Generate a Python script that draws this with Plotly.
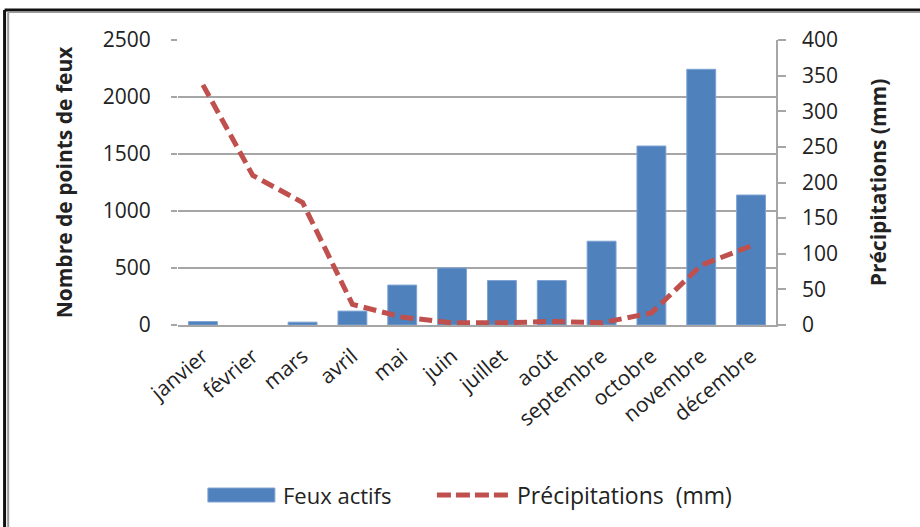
import plotly.graph_objects as go

# Monthly active fire counts and rainfall
months = ["janvier", "février", "mars", "avril", "mai", "juin", "juillet",
          "août", "septembre", "octobre", "novembre", "décembre"]
feux_actifs = [30, 0, 25, 122, 350, 500, 390, 390, 735, 1570, 2243, 1140]
precipitations = [337, 210, 172, 29, 11, 3, 3, 5, 3, 17, 84, 111]

left_ticks = [0, 500, 1000, 1500, 2000, 2500]
right_ticks = [0, 50, 100, 150, 200, 250, 300, 350, 400]

FONT = "Open Sans"
TXT = "#222222"
GRID = "#a6a6a6"
BLUE = "#4F81BD"
RED = "#C0504D"

fig = go.Figure()

fig.add_trace(go.Bar(
    x=months, y=feux_actifs, name="Feux actifs",
    marker=dict(color=BLUE,
                line=dict(color="#7ea3d3",
                          width=[1 if v > 0 else 0 for v in feux_actifs])),
    yaxis="y", showlegend=False,
))

fig.add_trace(go.Scatter(
    x=months, y=precipitations, name="Précipitations  (mm)",
    mode="lines", line=dict(color=RED, width=5, dash="13px,6px"),
    yaxis="y2", showlegend=False,
))

# legend drawn below the plot: swatches + labels
legend_shapes = [
    dict(type="rect", xref="paper", yref="paper",
         x0=0.050, x1=0.162, y0=-0.621, y1=-0.572,
         fillcolor=BLUE, line=dict(color="#7ea3d3", width=1)),
    dict(type="line", xref="paper", yref="paper",
         x0=0.433, x1=0.558, y0=-0.5965, y1=-0.5965,
         line=dict(color=RED, width=5, dash="14px,5px")),
]
legend_labels = [
    dict(text="Feux actifs", x=0.172, y=-0.5965, xref="paper", yref="paper",
         xanchor="left", yanchor="middle", showarrow=False,
         font=dict(size=22, family=FONT, color=TXT)),
    dict(text="Précipitations  (mm)", x=0.564, y=-0.5965, xref="paper",
         yref="paper", xanchor="left", yanchor="middle", showarrow=False,
         font=dict(size=23, family=FONT, color=TXT)),
]

# outer frame: dark line with a grey inner line (top and left edges)
frame = [
    dict(type="line", xref="paper", yref="paper",
         x0=-0.290, x1=1.3, y0=1.105, y1=1.105,
         line=dict(color="#111111", width=3)),
    dict(type="line", xref="paper", yref="paper",
         x0=-0.284, x1=1.3, y0=1.097, y1=1.097,
         line=dict(color="#9a9a9a", width=1.5)),
    dict(type="line", xref="paper", yref="paper",
         x0=-0.290, x1=-0.290, y0=1.105, y1=-0.75,
         line=dict(color="#111111", width=3)),
    dict(type="line", xref="paper", yref="paper",
         x0=-0.284, x1=-0.284, y0=1.097, y1=-0.75,
         line=dict(color="#9a9a9a", width=2)),
]

fig.update_layout(
    width=920, height=527,
    margin=dict(l=178, r=144, t=40, b=202),
    paper_bgcolor="white", plot_bgcolor="white",
    bargap=0.42,
    showlegend=False,
    font=dict(family=FONT, color=TXT),
    xaxis=dict(
        type="category", tickangle=-40,
        tickfont=dict(size=21, family=FONT, color=TXT),
        showline=True, linecolor=GRID, linewidth=1.5,
        ticks="", showgrid=False, fixedrange=True,
        ticklabelstandoff=9,
    ),
    yaxis=dict(
        range=[0, 2500], tickvals=left_ticks,
        tickfont=dict(size=21, family=FONT, color=TXT),
        showgrid=True, gridcolor=GRID, gridwidth=1.5,
        zeroline=False, showline=False,
        ticks="outside", ticklen=6, tickcolor=GRID, tickwidth=1.5,
        ticklabelstandoff=16,
        title=dict(text="<b>Nombre de points de feux</b>",
                   font=dict(size=21, family=FONT, color=TXT), standoff=24),
    ),
    yaxis2=dict(
        range=[0, 400], tickvals=right_ticks, overlaying="y", side="right",
        tickfont=dict(size=21, family=FONT, color=TXT),
        showgrid=False, zeroline=False,
        showline=True, linecolor=GRID, linewidth=1.5,
        ticks="outside", ticklen=8, tickcolor=GRID, tickwidth=1.5,
        ticklabelstandoff=12,
        title=dict(text="<b>Précipitations (mm)</b>",
                   font=dict(size=21, family=FONT, color=TXT), standoff=34),
    ),
    shapes=frame + legend_shapes,
    annotations=legend_labels,
)

fig.write_html("out.html")
